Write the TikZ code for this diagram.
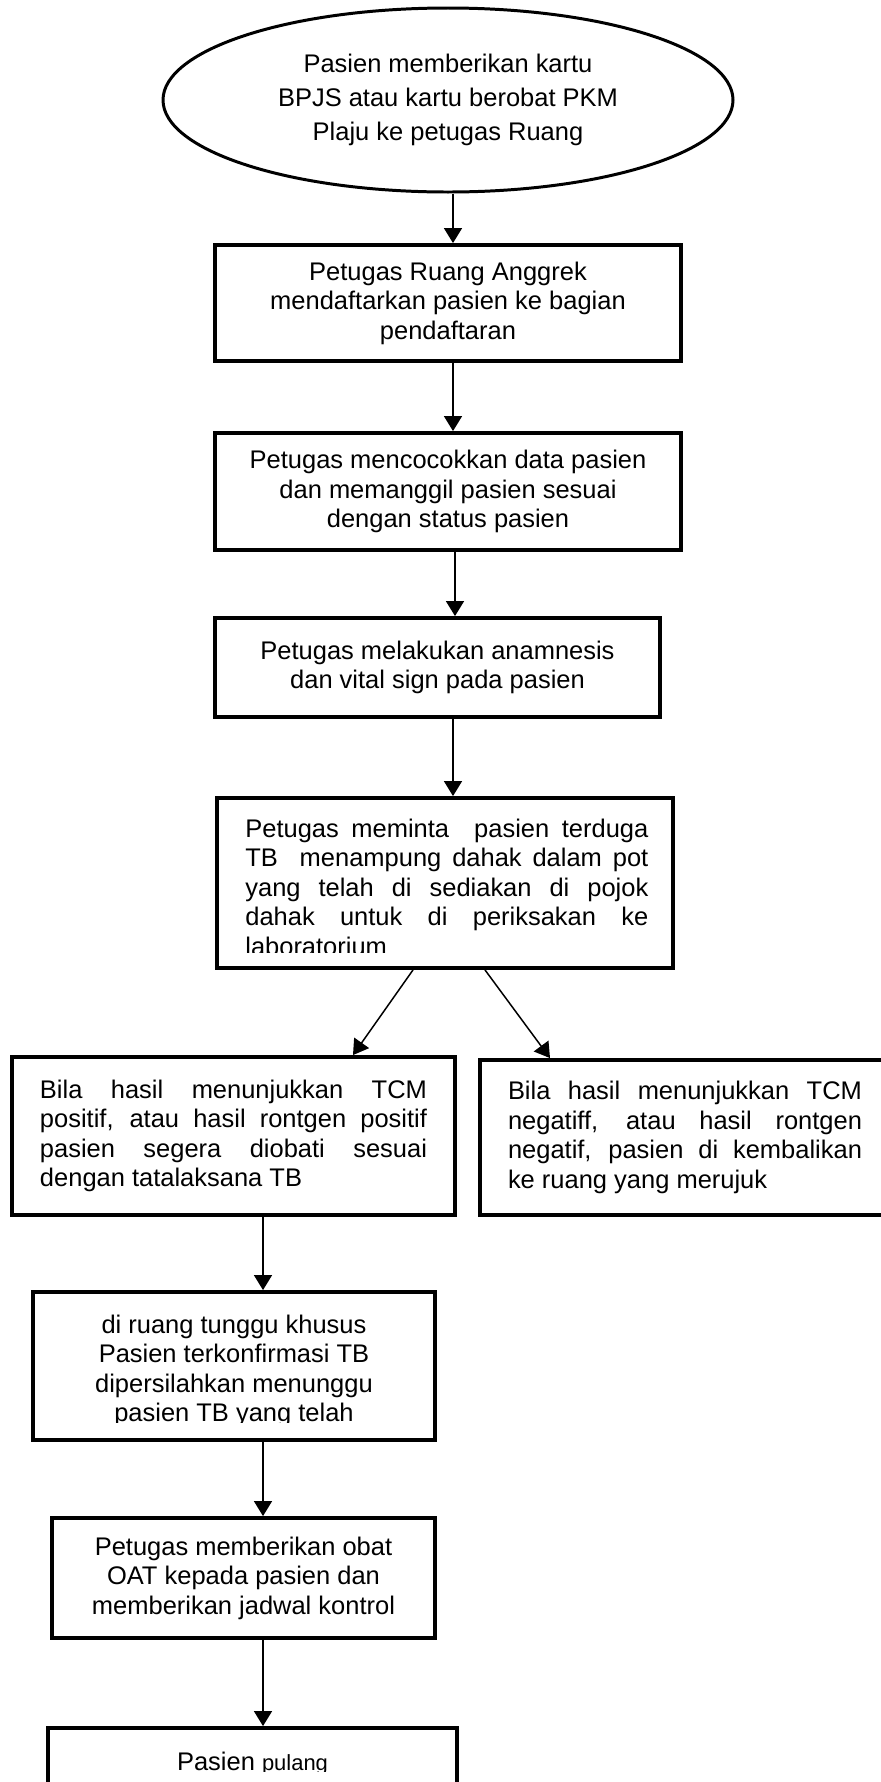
\documentclass[tikz,border=0pt]{standalone}
\usepackage{fontspec}
\setmainfont{Liberation Sans}
\usetikzlibrary{shapes.geometric,arrows.meta}

\tikzset{
    kotak/.style={draw, rectangle, line width=2.2pt, inner sep=0pt},
    panah/.style={-{Triangle[width=0.36cm,length=0.3cm]}, line width=0.85pt}
}

\begin{document}
\begin{tikzpicture}[font=\fontsize{14.5}{16.8}\selectfont]
        \useasboundingbox (0,0) rectangle (17.62,-35.64);

        % the start
        \node[ellipse, draw, line width=1.7pt, minimum width=11.4cm, minimum height=3.68cm, inner sep=0pt,
              align=center, font=\fontsize{14.5}{19.35}\selectfont] (mulai) at (8.96,-2.0)
              {Pasien memberikan kartu\\BPJS atau kartu berobat PKM\\Plaju ke petugas Ruang};

        % the steps
        \node[kotak, minimum width=9.32cm, minimum height=2.32cm, align=center] (daftar) at (8.96,-6.06)
              {Petugas Ruang Anggrek\\mendaftarkan pasien ke bagian\\pendaftaran};
        \node[kotak, minimum width=9.32cm, minimum height=2.34cm, align=center] (cocok) at (8.96,-9.83)
              {Petugas mencocokkan data pasien\\dan memanggil pasien sesuai\\dengan status pasien};
        \node[kotak, minimum width=8.9cm, minimum height=1.98cm, align=center] (anam) at (8.75,-13.35)
              {Petugas melakukan anamnesis\\dan vital sign pada pasien};

        % this box cuts its last line off, so the text is clipped
        \node[kotak, minimum width=9.12cm, minimum height=3.4cm] (dahak) at (8.90,-17.66) {};
        \begin{scope}
            \clip (4.5,-16.2) rectangle (13.3,-19.04);
            \node[anchor=base west, inner sep=0pt] (dahakteks) at (4.90,-16.74)
                  {\parbox[t]{8.06cm}{\tolerance=10000 Petugas meminta\ \ pasien terduga\linebreak
                  TB\ \ menampung dahak dalam pot\linebreak yang telah di sediakan di pojok\linebreak
                  dahak untuk di periksakan ke\linebreak laboratorium}};
        \end{scope}

        % the two results
        \node[kotak, minimum width=8.86cm, minimum height=3.16cm] (positif) at (4.67,-22.72)
              {\parbox{7.74cm}{\tolerance=10000 Bila hasil menunjukkan TCM\linebreak
              positif, atau hasil rontgen positif\linebreak pasien segera diobati sesuai\linebreak
              dengan tatalaksana TB}};
        \node[kotak, minimum width=8.2cm, minimum height=3.10cm] (negatif) at (13.70,-22.75)
              {\parbox{7.08cm}{\tolerance=10000 Bila hasil menunjukkan TCM\linebreak
              negatiff, atau hasil rontgen\linebreak negatif, pasien di kembalikan\linebreak
              ke ruang yang merujuk}};

        \node[kotak, minimum width=8.04cm, minimum height=2.96cm] (tunggu) at (4.68,-27.32) {};
        \begin{scope}
            \clip (1.0,-26.0) rectangle (8.6,-28.44);
            \node[anchor=base, inner sep=0pt] (tungguteks) at (4.68,-26.66)
                  {\parbox[t]{8cm}{\centering di ruang tunggu khusus\\Pasien terkonfirmasi TB\\
                  dipersilahkan menunggu\\pasien TB yang telah}};
        \end{scope}

        \node[kotak, minimum width=7.66cm, minimum height=2.40cm, align=center] (obat) at (4.87,-31.56)
              {Petugas memberikan obat\\OAT kepada pasien dan\\memberikan jadwal kontrol};

        \node[kotak, minimum width=8.18cm, minimum height=2.0cm] (pulang) at (5.05,-35.56) {};
        \begin{scope}
            \clip (1.0,-34.7) rectangle (9.0,-35.42);
            \node[anchor=base, inner sep=0pt] (pulangteks) at (5.05,-35.40)
                  {Pasien {\fontsize{12.5}{15}\selectfont pulang}};
        \end{scope}

        % draw the arrows
        \draw[panah] ([xshift=1mm]mulai.south) -- ([xshift=1mm]daftar.north);
        \draw[panah] ([xshift=1mm]daftar.south) -- ([xshift=1mm]cocok.north);
        \draw[panah] ([xshift=1.4mm]cocok.south) -- ([xshift=1.4mm]cocok.south |- anam.north);
        \draw[panah] ([xshift=3.1mm]anam.south) -- ([xshift=3.1mm]anam.south |- dahak.north);
        \draw[panah] ([xshift=-6.4mm]dahak.south) -- ([xshift=23.9mm]positif.north);
        \draw[panah] ([xshift=8mm]dahak.south) -- ([xshift=-27mm]negatif.north);
        \draw[panah] ([xshift=5.9mm]positif.south) -- ([xshift=5.9mm]positif.south |- tunggu.north);
        \draw[panah] ([xshift=5.8mm]tunggu.south) -- ([xshift=5.8mm]tunggu.south |- obat.north);
        \draw[panah] ([xshift=3.9mm]obat.south) -- ([xshift=3.9mm]obat.south |- pulang.north);

    \end{tikzpicture}
\end{document}
